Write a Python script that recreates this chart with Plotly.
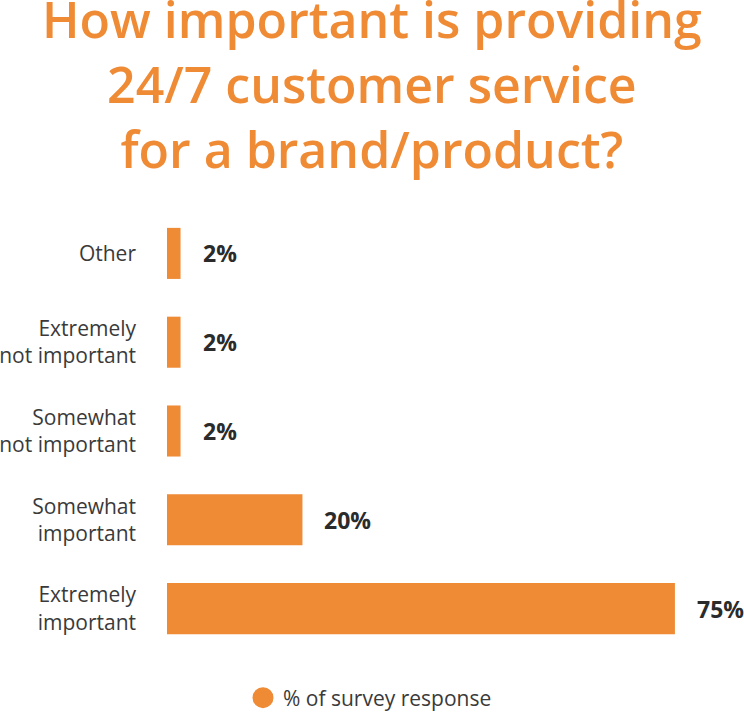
import plotly.graph_objects as go

categories = ["Extremely<br>important", "Somewhat<br>important", "Somewhat<br>not important",
              "Extremely<br>not important", "Other"]
values = [75, 20, 2, 2, 2]
value_labels = ["75%", "20%", "2%", "2%", "2%"]
series_name = "% of survey response"
title_lines = ["How important is providing", "24/7 customer service", "for a brand/product?"]

ORANGE = "#EF8A35"
DARK = "#2b2b2b"
W, H = 744, 713
M_L, M_R, M_T, M_B = 167, 0, 209, 60
PLOT_H = H - M_T - M_B

fig = go.Figure()
fig.add_trace(go.Bar(
    y=categories, x=values, orientation="h",
    marker=dict(color=ORANGE, line=dict(width=0)),
    width=0.575, showlegend=False, hoverinfo="skip",
))
# legend entry as a circle marker
fig.add_trace(go.Scatter(
    x=[None], y=[None], mode="markers", name=series_name,
    marker=dict(color=ORANGE, size=24, symbol="circle", line=dict(color=ORANGE, width=5)),
))

for c, v, lab in zip(categories, values, value_labels):
    fig.add_annotation(x=v, y=c, text=lab, showarrow=False, xanchor="left",
                       xshift=20, font=dict(family="Open Sans", size=23, color=DARK, weight=700))

# title (three centred lines)
fig.add_annotation(
    text="<br>".join(title_lines), xref="paper", yref="paper",
    x=(W / 2 - M_L) / (W - M_L - M_R), y=1 + M_T / PLOT_H, xanchor="center", yanchor="top",
    yshift=17, showarrow=False, align="center",
    font=dict(family="Open Sans", size=50, color=ORANGE, weight=600),
)

fig.update_layout(
    width=W, height=H,
    margin=dict(l=M_L, r=M_R, t=M_T, b=M_B, autoexpand=False),
    paper_bgcolor="white", plot_bgcolor="white",
    xaxis=dict(range=[0, 85.2], visible=False, fixedrange=True),
    yaxis=dict(showgrid=False, zeroline=False, showline=False, ticks="",
               tickfont=dict(family="Open Sans", size=21, color="#3a3a3a"),
               ticklabelstandoff=30, fixedrange=True),
    showlegend=True,
    legend=dict(orientation="h", x=(243 - M_L) / (W - M_L - M_R), xanchor="left",
                y=-45 / PLOT_H, yanchor="middle",
                font=dict(family="Open Sans", size=21, color="#3a3a3a"), itemsizing="trace"),
)

fig.write_html("out.html")
